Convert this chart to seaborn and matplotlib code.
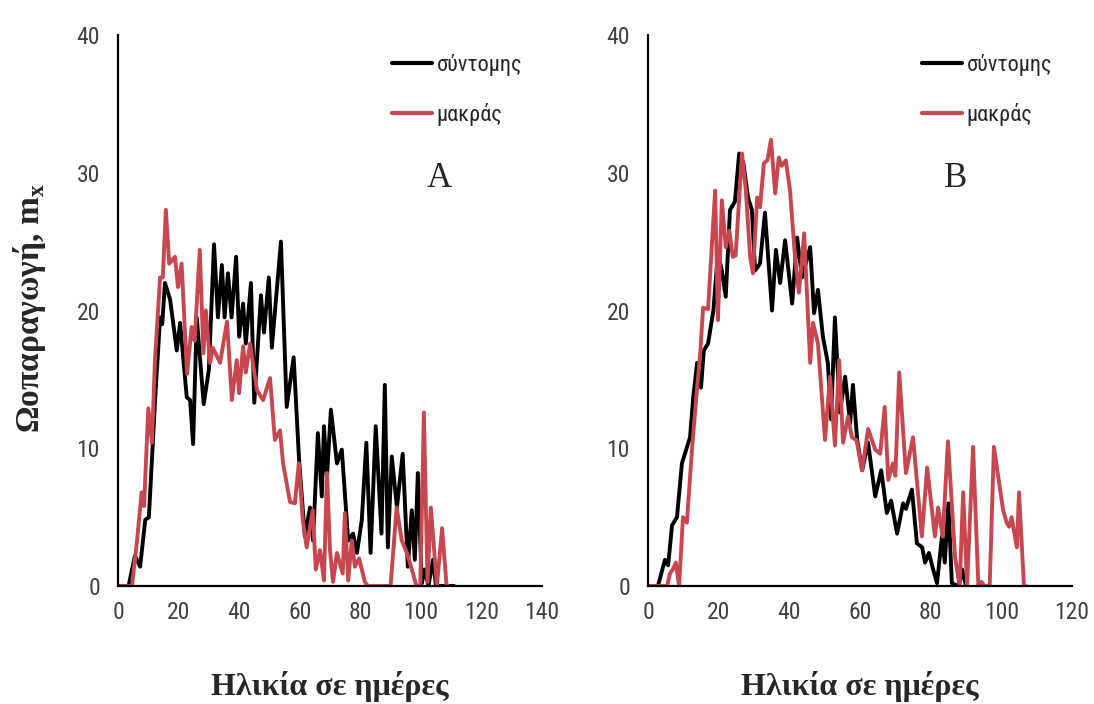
import numpy as np
import pandas as pd
import matplotlib
matplotlib.use('Agg')
import matplotlib.pyplot as plt
import seaborn as sns

# series labels
lab_short = 'σύντομης'
lab_long = 'μακράς'

# panel A (days, m_x)
a_short_day = [0, 3.5, 5.6, 7.3, 9, 10.2, 12.2, 13.9, 14.6, 15.5, 17.2, 19.4, 20.5, 22.7, 23.8, 24.8, 26, 28.3, 30, 31.7,
               33, 34.3, 35.2, 36.3, 37.5, 39, 40, 41.3, 42.2, 43.9, 45, 47.2, 48.2, 49.8, 50.8, 53.8, 55.7, 58, 59.8, 61.7,
               63.4, 64.4, 66, 67.3, 68, 69, 70.3, 72.3, 73.9, 76, 77.6, 78.9, 80.5, 82, 83.4, 85.1, 87, 88.1, 89.1, 90.4,
               92.1, 94, 95.7, 97, 98, 99, 100.3, 101.3, 102.5, 104, 105, 111]
a_short_val = [0, 0, 2.2, 1.4, 4.8, 5.0, 13.3, 19.5, 19.0, 22.0, 20.8, 17.1, 19.1, 13.7, 13.5, 10.3, 19.5, 13.2, 15.7, 24.8,
               19.5, 23.3, 19.5, 22.7, 19.5, 23.9, 18.1, 20.5, 17.6, 22.0, 13.3, 21.1, 18.4, 22.4, 17.3, 25.0, 13.0, 16.6, 9.1, 3.6,
               5.7, 3.3, 11.1, 6.5, 11.6, 7.9, 12.8, 8.9, 9.9, 3.3, 3.8, 2.4, 4.8, 10.4, 2.4, 11.6, 3.8, 14.6, 2.8, 9.4,
               5.7, 9.6, 1.4, 5.5, 1.9, 8.2, 0.2, 1.2, 0, 1.9, 0, 0]
a_long_day = [0, 4.6, 6.2, 7.8, 8.6, 10, 11.2, 12.2, 13.9, 14.8, 15.8, 16.9, 18.8, 19.8, 21, 22.8, 24.3, 25.3, 27, 28.2,
              29, 30.4, 31.3, 33.7, 36, 37.6, 39.2, 40, 41.3, 42.2, 43.6, 45.9, 47.9, 50.2, 51.8, 53.5, 54.5, 56.8, 58.4, 59.7,
              61, 62.3, 64.3, 65.3, 66.7, 68, 69, 70, 71, 72.3, 74.2, 74.9, 76, 77.2, 78.2, 79.6, 81.5, 82.5, 90, 92,
              93.7, 95.4, 97.4, 98.5, 99.8, 101, 102.2, 103.3, 105.3, 107, 108.5, 109]
a_long_val = [0, 0, 3.1, 6.8, 5.8, 12.9, 10.4, 16.4, 22.4, 22.4, 27.3, 23.4, 23.9, 21.7, 23.4, 15.4, 18.8, 17.8, 24.4, 16.9,
              20.0, 16.2, 17.3, 16.2, 19.2, 13.5, 16.4, 14.0, 17.4, 15.5, 17.6, 14.2, 13.5, 15.1, 10.6, 11.3, 8.9, 6.1, 6.0, 8.9,
              4.8, 2.8, 5.5, 1.2, 2.6, 0.4, 8.2, 2.6, 0.3, 2.4, 0.9, 5.3, 0.4, 3.3, 1.4, 2.0, 0.3, 0, 0, 5.7,
              3.3, 2.4, 0.9, 0, 0, 12.6, 0.3, 5.7, 0, 4.2, 0, 0]

# panel B
b_short_day = [0, 2.8, 4.8, 5.7, 6.8, 8.2, 9.6, 11.9, 12.8, 13.9, 15, 15.8, 17, 18.5, 19.8, 20.9, 22, 23.2, 24.6, 25.8,
               27, 28.3, 29.4, 30.3, 31.7, 33.1, 35.1, 36.2, 37.4, 38.8, 40.8, 42.2, 43.6, 45.9, 47, 48.1, 49.5, 50.9, 51.8, 52.9,
               54.3, 55.8, 57.2, 58, 59.2, 60.6, 62.3, 64.3, 66, 67.6, 68.8, 70.5, 72.2, 73, 74.7, 76.1, 77.6, 78.4, 79.5, 80.7,
               81.8, 83.2, 84, 85, 86, 88, 88.9, 90]
b_short_val = [0, 0, 1.9, 1.5, 4.4, 5.0, 8.9, 10.8, 13.7, 16.2, 14.4, 17.1, 17.6, 20.0, 24.2, 22.9, 21.0, 27.3, 27.9, 31.4,
               30.7, 28.2, 27.3, 22.9, 23.4, 27.1, 20.0, 24.4, 22.0, 25.1, 20.5, 25.3, 22.4, 24.6, 19.8, 21.5, 18.1, 16.2, 12.1, 19.5,
               12.6, 15.2, 11.8, 14.6, 10.6, 8.4, 10.4, 6.5, 8.4, 5.3, 6.2, 3.8, 6.0, 5.6, 7.0, 3.1, 2.8, 1.7, 2.4, 1.2,
               0.2, 3.6, 1.7, 6.0, 0.2, 0, 1.2, 0]
b_long_day = [0, 5.4, 6.2, 7, 7.9, 8.8, 9.9, 11, 12.5, 13.9, 14.7, 15.6, 17, 19, 19.8, 20.9, 22, 23, 24, 24.8,
              26.6, 27.7, 28.9, 29.7, 30.9, 31.7, 32.8, 33.8, 34.8, 36, 37, 37.8, 39, 40.2, 41.6, 42.7, 44.2, 45.9, 46.7, 48.1,
              50.1, 51.5, 52.9, 54.1, 55.2, 56.6, 57.7, 59, 60.6, 62.3, 64.3, 65.7, 67, 68, 69.3, 70, 71.1, 73, 75, 77.5,
              79, 81.2, 82.1, 83.4, 84.9, 86.9, 88.2, 89.2, 90.3, 92, 93.5, 94.4, 95.2, 96.7, 97.9, 100.5, 101.5, 102.2, 102.9, 104.4,
              105, 106.4, 107]
b_long_val = [0, 0, 0.9, 1.2, 1.7, 0, 5.0, 4.6, 10.1, 14.4, 16.6, 20.2, 20.1, 28.7, 19.3, 28.0, 24.6, 25.8, 23.9, 24.0,
              31.4, 28.7, 23.9, 22.7, 28.2, 27.5, 30.7, 30.9, 32.4, 28.5, 31.1, 30.5, 30.9, 28.7, 23.9, 21.3, 25.6, 16.2, 19.1, 17.6,
              10.6, 15.2, 10.2, 16.4, 10.4, 12.3, 10.8, 10.6, 8.4, 11.4, 9.9, 9.6, 13.0, 7.7, 8.9, 8.0, 15.5, 8.2, 10.8, 3.6,
              8.6, 3.6, 5.7, 3.6, 10.5, 2.1, 0, 6.8, 0, 10.1, 0, 0.3, 0, 0, 10.1, 5.5, 4.6, 4.3, 5.0, 2.8,
              6.8, 0, 0]

xticks_a = [0, 20, 40, 60, 80, 100, 120, 140]
xticks_b = [0, 20, 40, 60, 80, 100, 120]
yticks = [0, 10, 20, 30, 40]

sns.set_style('white')
narrow = ['Liberation Sans Narrow', 'DejaVu Sans Condensed', 'Roboto Condensed', 'Liberation Sans']
serif = ['Liberation Serif', 'DejaVu Serif']
plt.rcParams['font.family'] = narrow
plt.rcParams['mathtext.fontset'] = 'custom'
plt.rcParams['mathtext.rm'] = 'Liberation Serif:bold'

palette = {lab_short: 'black', lab_long: '#c8474f'}

fig = plt.figure(figsize=(10.94, 7.04), dpi=100)
axA = fig.add_axes([118 / 1094, 1 - 586 / 704, 424 / 1094, 551 / 704])
axB = fig.add_axes([648 / 1094, 1 - 586 / 704, 424 / 1094, 551 / 704])


def make_df(d1, v1, d2, v2):
    df1 = pd.DataFrame({'day': d1, 'mx': v1, 'series': lab_short})
    df2 = pd.DataFrame({'day': d2, 'mx': v2, 'series': lab_long})
    return pd.concat([df1, df2], ignore_index=True)


panels = [
    (axA, make_df(a_short_day, a_short_val, a_long_day, a_long_val), xticks_a, 'A', 106),
    (axB, make_df(b_short_day, b_short_val, b_long_day, b_long_val), xticks_b, 'B', 87),
]

for ax, df, xt, letter, lx in panels:
    sns.lineplot(data=df, x='day', y='mx', hue='series', palette=palette,
                 estimator=None, sort=False, linewidth=2.8, ax=ax)
    ax.set_xlim(0, xt[-1])
    ax.set_ylim(0, 40)
    ax.set_xticks(xt)
    ax.set_yticks(yticks)
    sns.despine(ax=ax)
    for s in ['left', 'bottom']:
        ax.spines[s].set_linewidth(1.6)
        ax.spines[s].set_color('black')
    ax.tick_params(axis='both', direction='out', length=7, width=1.5, color='black',
                   labelsize=17, labelcolor='#404040')
    ax.tick_params(axis='y', pad=6)
    ax.tick_params(axis='x', pad=4)
    ax.set_ylabel('')
    ax.set_xlabel('Ηλικία σε ημέρες', fontsize=23, fontweight='bold', family=serif)
    ax.xaxis.set_label_coords(0.5, -0.155)
    ax.text(lx, 29.6, letter, fontsize=25, family=serif, ha='center', va='center')
    h, l = ax.get_legend_handles_labels()
    ax.legend(h, l, loc='upper left', bbox_to_anchor=(0.6, 1.002), frameon=False,
              fontsize=16, handlelength=1.8, handletextpad=0.2, labelspacing=1.2)
    for line in ax.get_legend().get_lines():
        line.set_linewidth(3)

fig.text(0.027, 1 - 308 / 704, 'Ωοπαραγωγή, m$_{\\mathrm{x}}$', rotation=90,
         fontsize=24, fontweight='bold', family=serif, ha='center', va='center')

fig.savefig('out.png', dpi=100, facecolor='white')
